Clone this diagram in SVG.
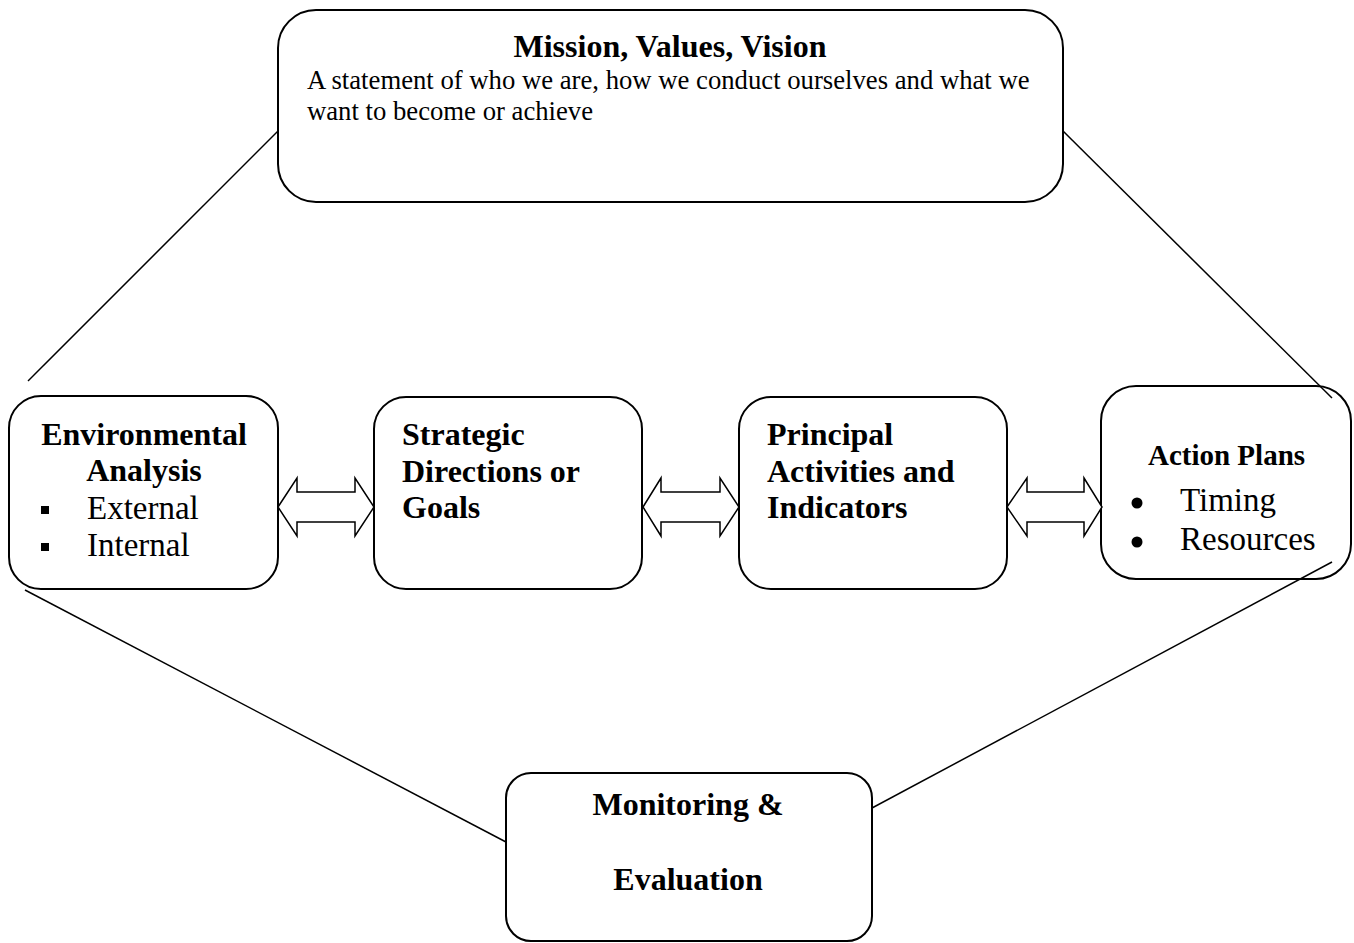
<svg xmlns="http://www.w3.org/2000/svg" width="1354" height="943" viewBox="0 0 1354 943">
<style>
.box{fill:#fff;stroke:#000;stroke-width:2}
.conn{stroke:#000;stroke-width:1.5;fill:none}
.arr{fill:#fff;stroke:#000;stroke-width:1.5;stroke-linejoin:miter}
.h{font-family:"Liberation Serif","Times New Roman",serif;font-weight:bold;font-size:32px;fill:#000}
.b{font-family:"Liberation Serif","Times New Roman",serif;font-size:26.7px;fill:#000}
.li{font-family:"Liberation Serif","Times New Roman",serif;font-size:33px;fill:#000}
.c{text-anchor:middle}
</style>
<rect width="1354" height="943" fill="#fff"/>
<g id="mission">
<rect class="box" x="278" y="10" width="785" height="192" rx="38" ry="38"/>
<text class="h c" x="670" y="57">Mission, Values, Vision</text>
<text class="b" x="307" y="89">A statement of who we are, how we conduct ourselves and what we</text>
<text class="b" x="307" y="120">want to become or achieve</text>
</g>
<g id="environmental">
<rect class="box" x="9" y="396" width="269" height="193" rx="32" ry="32"/>
<text class="h c" x="144" y="445">Environmental</text>
<text class="h c" x="144" y="481">Analysis</text>
<rect x="41" y="506" width="8" height="8" fill="#000"/>
<rect x="41" y="543" width="8" height="8" fill="#000"/>
<text class="li" x="87" y="519">External</text>
<text class="li" x="87" y="556">Internal</text>
</g>
<g id="strategic">
<rect class="box" x="374" y="397" width="268" height="192" rx="32" ry="32"/>
<text class="h" x="402" y="445">Strategic</text>
<text class="h" x="402" y="482">Directions or</text>
<text class="h" x="402" y="518">Goals</text>
</g>
<g id="principal">
<rect class="box" x="739" y="397" width="268" height="192" rx="32" ry="32"/>
<text class="h" x="767" y="445">Principal</text>
<text class="h" x="767" y="482">Activities and</text>
<text class="h" x="767" y="518">Indicators</text>
</g>
<g id="action">
<rect class="box" x="1101" y="386" width="250" height="193" rx="35" ry="35"/>
<text class="h c" x="1226.5" y="465" style="font-size:29px">Action Plans</text>
<circle cx="1137" cy="503" r="5.5" fill="#000"/>
<circle cx="1137" cy="542" r="5.5" fill="#000"/>
<text class="li" x="1180" y="511">Timing</text>
<text class="li" x="1180" y="550">Resources</text>
</g>
<g id="monitoring">
<rect class="box" x="506" y="773" width="366" height="168" rx="25" ry="25"/>
<text class="h c" x="688" y="815">Monitoring &amp;</text>
<text class="h c" x="688" y="890">Evaluation</text>
</g>
<g id="connectors">
<line class="conn" x1="28" y1="381" x2="278" y2="131"/>
<line class="conn" x1="1063" y1="131" x2="1332" y2="398"/>
<line class="conn" x1="25" y1="590" x2="506" y2="842"/>
<line class="conn" x1="1332" y1="562" x2="872" y2="808"/>
<path class="arr" d="M278,507 L297,478 L297,492 L355,492 L355,478 L374,507 L355,536 L355,522 L297,522 L297,536 Z"/>
<path class="arr" d="M643,507 L661,478 L661,492 L720,492 L720,478 L739,507 L720,536 L720,522 L661,522 L661,536 Z"/>
<path class="arr" d="M1007,507 L1027,478 L1027,492 L1084,492 L1084,478 L1102,507 L1084,536 L1084,522 L1027,522 L1027,536 Z"/>
</g>
</svg>
